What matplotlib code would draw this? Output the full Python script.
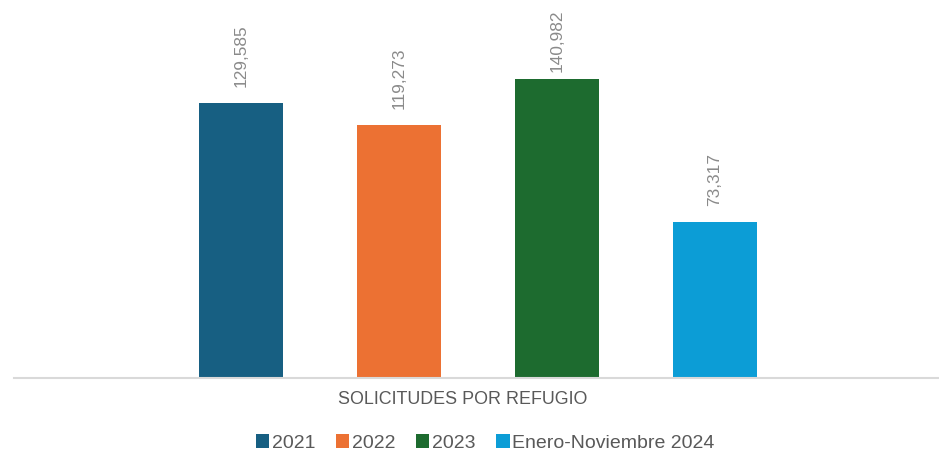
import matplotlib

matplotlib.use("Agg")
import matplotlib.pyplot as plt
from matplotlib.patches import Patch

plt.rcParams["font.family"] = ["Liberation Sans", "DejaVu Sans"]

# Datos
series = ["2021", "2022", "2023", "Enero-Noviembre 2024"]
values = [129585, 119273, 140982, 73317]
colors = ["#175F82", "#EC7133", "#1D6B2F", "#0C9DD6"]
category = "SOLICITUDES POR REFUGIO"

W, H, DPI = 939, 453, 100


def main() -> None:
    fig = plt.figure(figsize=(W / DPI, H / DPI), dpi=DPI)
    ax = fig.add_axes([14 / W, 1 - 377.5 / H, 1 - 14 / W, 377.5 / H])

    xs = list(range(len(values)))
    bars = ax.bar(xs, values, width=0.53, color=colors)

    labels = []
    for rect, v in zip(bars, values):
        t = ax.annotate(f"{v:,}", (rect.get_x() + rect.get_width() / 2, v),
                        xytext=(0, 11.5), textcoords="offset points",
                        ha="center", va="bottom", rotation=90,
                        fontsize=12.4, color="#8a8a8a")
        labels.append(t)

    ax.set_xlim(-1.435, 3 + 1.42)
    ax.set_ylim(0, 178500)
    for side in ("top", "left", "right"):
        ax.spines[side].set_visible(False)
    ax.spines["bottom"].set_color("#d9d9d9")
    ax.spines["bottom"].set_linewidth(1.5)
    ax.set_xticks([])
    ax.set_yticks([])

    # como en Excel: la etiqueta que se sale por arriba se baja hacia la barra
    fig.canvas.draw()
    renderer = fig.canvas.get_renderer()
    top_limit = H - 9
    for t in labels:
        bb = t.get_window_extent(renderer)
        if bb.y1 > top_limit:
            dy = (bb.y1 - top_limit) * 72 / DPI
            t.xyann = (0, t.xyann[1] - dy)

    fig.text(462.5 / W, 1 - 400 / H, category, ha="center", va="center",
             fontsize=12.9, color="#595959")

    handles = [Patch(facecolor=c, label=s) for c, s in zip(colors, series)]
    fig.legend(handles=handles, loc="center", bbox_to_anchor=(485.5 / W, 1 - 443 / H),
               ncol=4, frameon=False, fontsize=14, labelcolor="#595959",
               handlelength=0.68, handleheight=0.68, handletextpad=0.15,
               columnspacing=1.05, borderpad=0, borderaxespad=0)

    fig.savefig("out.png", dpi=DPI)


if __name__ == "__main__":
    main()
